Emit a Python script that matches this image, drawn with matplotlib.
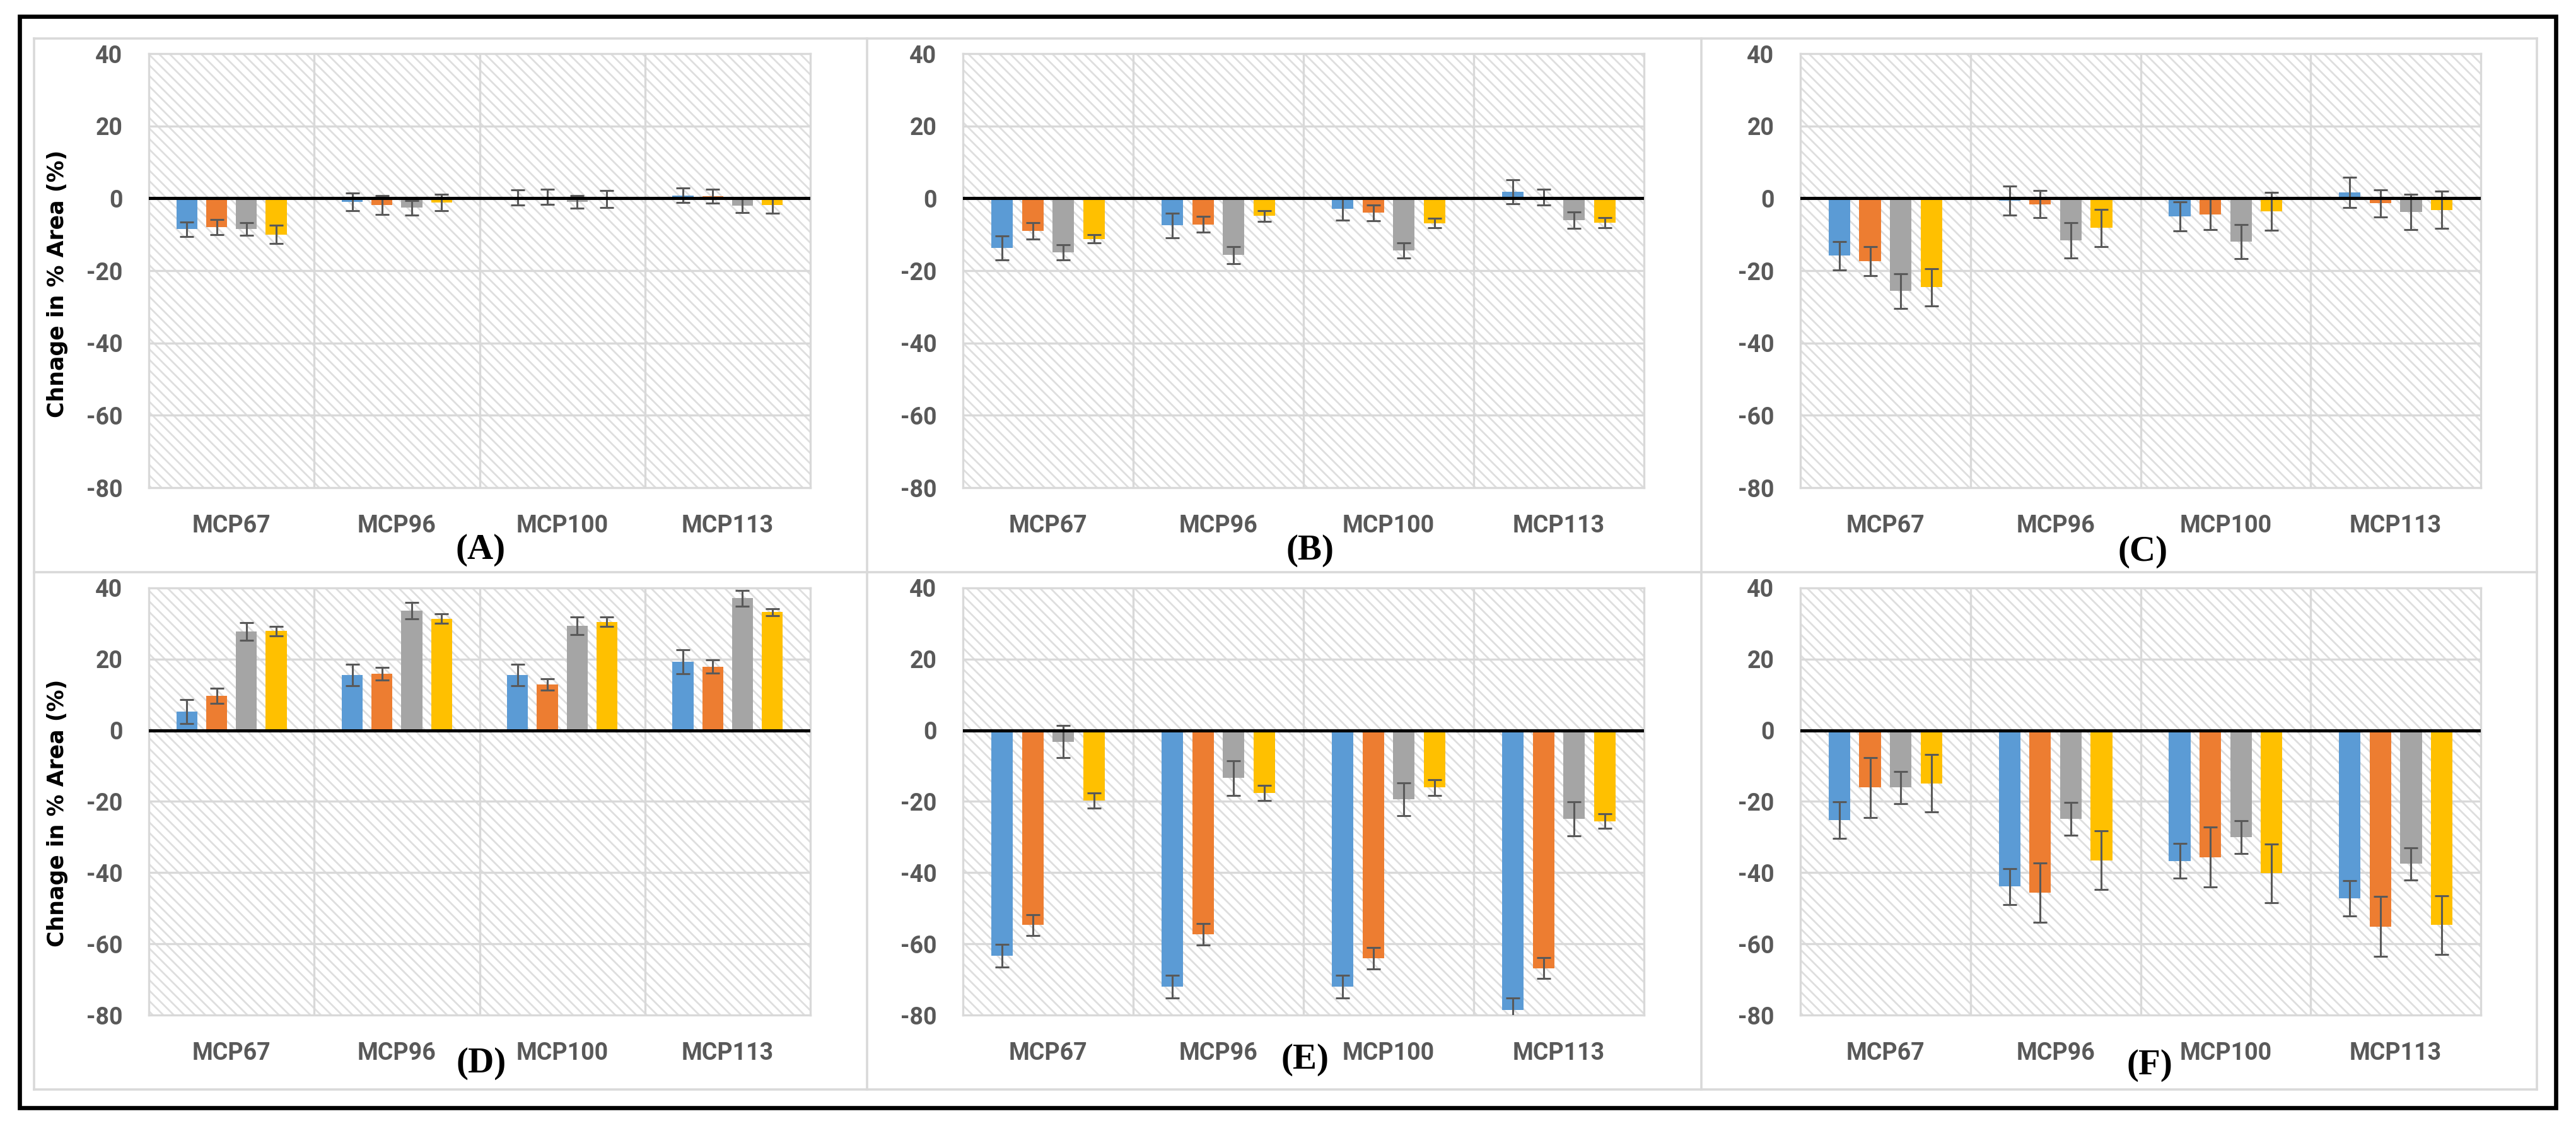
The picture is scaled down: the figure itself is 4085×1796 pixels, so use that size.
import matplotlib
matplotlib.use("Agg")
import matplotlib.pyplot as plt
from matplotlib.patches import Rectangle
from matplotlib.lines import Line2D
import numpy as np

plt.rcParams['axes.unicode_minus'] = False
plt.rcParams['hatch.linewidth'] = 2.0

W, H = 4085, 1796

categories = ["MCP67", "MCP96", "MCP100", "MCP113"]
yticks = [-80, -60, -40, -20, 0, 20, 40]
panel_names = ["(A)", "(B)", "(C)", "(D)", "(E)", "(F)"]
colors = ["#5B9BD5", "#ED7D31", "#A5A5A5", "#FFC000"]

# each panel: 4 series (blue, orange, gray, yellow) x 4 categories
a_vals = [[-8.5, -1.0, 0.2, 0.8], [-8.0, -1.8, 0.4, 0.6],
          [-8.5, -2.6, -1.0, -2.0], [-10.0, -1.2, -0.2, -1.9]]
a_err = [[2.0, 2.5, 2.1, 2.0], [2.1, 2.6, 2.1, 1.9],
         [1.8, 2.0, 1.7, 1.9], [2.5, 2.3, 2.4, 2.2]]

b_vals = [[-13.7, -7.5, -2.9, 1.8], [-9.0, -7.2, -4.0, 0.3],
          [-14.9, -15.7, -14.4, -6.0], [-11.2, -4.9, -6.9, -6.8]]
b_err = [[3.3, 3.4, 3.2, 3.3], [2.2, 2.2, 2.2, 2.2],
         [2.1, 2.3, 2.1, 2.3], [1.2, 1.5, 1.3, 1.4]]

c_vals = [[-15.9, -0.7, -5.0, 1.7], [-17.4, -1.6, -4.4, -1.4],
          [-25.6, -11.6, -12.0, -3.8], [-24.6, -8.2, -3.6, -3.2]]
c_err = [[4.0, 4.0, 4.0, 4.2], [4.0, 3.8, 4.2, 3.8],
         [4.8, 4.9, 4.7, 4.9], [5.1, 5.1, 5.2, 5.2]]

d_vals = [[5.3, 15.5, 15.5, 19.3], [9.7, 15.9, 12.8, 17.9],
          [27.8, 33.6, 29.3, 37.1], [27.9, 31.4, 30.5, 33.2]]
d_err = [[3.4, 3.0, 3.0, 3.4], [2.1, 1.8, 1.6, 1.9],
         [2.5, 2.3, 2.5, 2.2], [1.3, 1.35, 1.4, 1.0]]

e_vals = [[-63.4, -72.1, -72.1, -78.6], [-54.7, -57.3, -64.1, -66.8],
          [-3.2, -13.4, -19.4, -24.9], [-19.7, -17.6, -16.1, -25.5]]
e_err = [[3.2, 3.2, 3.2, 3.3], [2.9, 3.0, 3.0, 2.9],
         [4.5, 4.9, 4.6, 4.8], [2.1, 2.2, 2.2, 2.0]]

f_vals = [[-25.2, -43.9, -36.7, -47.2], [-16.1, -45.6, -35.6, -55.1],
          [-16.1, -24.9, -30.0, -37.5], [-14.9, -36.5, -40.2, -54.7]]
f_err = [[5.1, 5.0, 4.9, 5.0], [8.4, 8.4, 8.4, 8.4],
         [4.5, 4.6, 4.6, 4.5], [8.1, 8.3, 8.3, 8.2]]

panels = [(a_vals, a_err), (b_vals, b_err), (c_vals, c_err),
          (d_vals, d_err), (e_vals, e_err), (f_vals, f_err)]

tick_font = ["Liberation Sans Narrow", "Roboto", "DejaVu Sans"]
grid_col = "#d9d9d9"


def fx(px):
    return px / W


def fy(py):
    return 1 - py / H


fig = plt.figure(figsize=(W / 100, H / 100), dpi=100)

# plot area boxes in pixels (left, right, top, bottom)
cols = [(236, 1285), (1527, 2607), (2855, 3934)]
rows = [(85, 773), (932, 1609)]
label_pos = [(762, 872), (2078, 873), (3398, 875),
             (763, 1686), (2069, 1680), (3409, 1689)]

x = np.arange(len(categories))
offsets = [-0.27, -0.09, 0.09, 0.27]
bw = 0.127

for i, (vals, errs) in enumerate(panels):
    r, c = divmod(i, 3)
    l, rr = cols[c]
    t, b = rows[r]
    ax = fig.add_axes([fx(l), fy(b), fx(rr) - fx(l), (b - t) / H])
    ax.set_xlim(-0.5, 3.5)
    ax.set_ylim(-80, 40)

    ax.add_patch(Rectangle((0, 0), 1, 1, transform=ax.transAxes, facecolor="white",
                           edgecolor="#dedede", hatch="\\\\", linewidth=0, zorder=0))
    for yv in yticks[1:-1]:
        ax.axhline(yv, color=grid_col, lw=2.4, zorder=1)
    for xv in [0.5, 1.5, 2.5]:
        ax.axvline(xv, color=grid_col, lw=2.4, zorder=1)

    for k in range(4):
        ax.bar(x + offsets[k], vals[k], bw, color=colors[k], zorder=3)
        ax.errorbar(x + offsets[k], vals[k], yerr=errs[k], fmt="none", ecolor="#595959",
                    elinewidth=2.2, capsize=8, capthick=2.2, zorder=4)
    ax.axhline(0, color="black", lw=3.6, zorder=5)

    for s in ax.spines.values():
        s.set_color(grid_col)
        s.set_linewidth(2.4)
    ax.set_xticks(x)
    ax.set_xticklabels(categories)
    ax.set_yticks(yticks)
    ax.set_yticklabels([str(v) for v in yticks])
    ax.tick_params(length=0, labelsize=27, colors="#595959")
    ax.tick_params(axis="y", pad=30)
    ax.tick_params(axis="x", pad=30)
    for lab in ax.get_xticklabels() + ax.get_yticklabels():
        lab.set_family(tick_font)
        lab.set_fontweight("bold")

    lx, ly = label_pos[i]
    fig.text(fx(lx), fy(ly), panel_names[i], ha="center", va="center", fontsize=41,
             fontweight="bold", family="Liberation Serif")

# y axis titles on the left column
for ly in [450, 1289]:
    fig.text(fx(91), fy(ly), "Chnage in % Area (%)", rotation=90, ha="center",
             va="center", fontsize=25, fontweight="bold", color="black")

# light gray chart frames
for xv in [54, 1375, 2698, 4023]:
    fig.add_artist(Line2D([fx(xv), fx(xv)], [fy(61), fy(1727)], color=grid_col, lw=2.6))
for yv in [61, 907, 1727]:
    fig.add_artist(Line2D([fx(54), fx(4023)], [fy(yv), fy(yv)], color=grid_col, lw=2.6))

# outer black border
fig.add_artist(Rectangle((fx(31), fy(1756)), fx(4053) - fx(31), (1756 - 26) / H,
                         fill=False, edgecolor="black", lw=4.8, transform=fig.transFigure))

fig.savefig("out.png", dpi=100, facecolor="white")
